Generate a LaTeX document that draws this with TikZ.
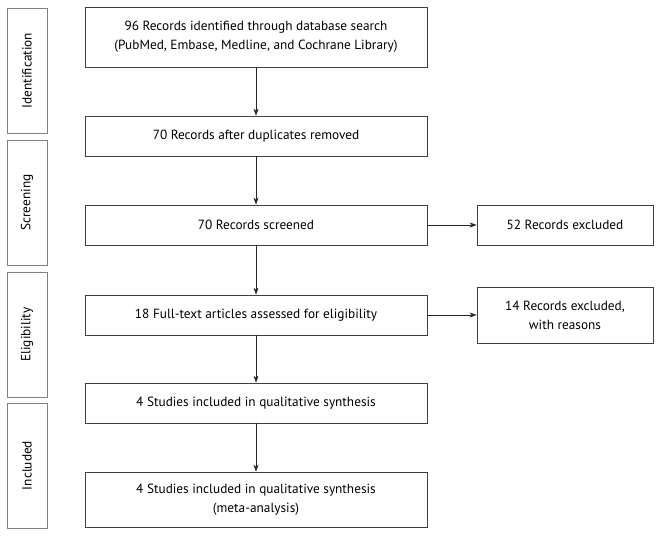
\documentclass[tikz,border=0pt]{standalone}
\usepackage{fontspec}
\setmainfont{PT Sans}
\usetikzlibrary{positioning}
\usetikzlibrary{arrows.meta}

\begin{document}
\begin{tikzpicture}
	[x=1pt, y=-1pt,
	font=\fontsize{13.3}{19}\selectfont,
	align=center,
	>={Stealth[length=7pt, width=5pt]},
	box/.style={draw=black!75, line width=0.8pt, text=black, minimum width=342pt, minimum height=40pt, inner sep=2pt},
	sidebox/.style={draw=black!75, line width=0.8pt, text=black, minimum width=176pt, minimum height=40pt, inner sep=2pt},
	phase/.style={draw=black!50, line width=0.8pt, text=black, rotate=90, minimum width=125pt, minimum height=40pt, inner sep=2pt}]

	\useasboundingbox (0,0) rectangle (660,535);

	% phases
	\node [phase] (ident) at (27,70.5)  {Identification};
	\node [phase] (screen) at (27,202.5) {Screening};
	\node [phase] (elig) at (27,334.5)  {Eligibility};
	\node [phase] (incl) at (27,465.5)  {Included};

	% nodes
	\node [box, minimum height=60pt] (search) at (256,37) {96 Records identified through database search \\ (PubMed, Embase, Medline, and Cochrane Library)};
	\node [box] (dupl) at (256,136) {70 Records after duplicates removed};
	\node [box] (screened) at (256,225) {70 Records screened};
	\node [box] (fulltext) at (256,315) {18 Full-text articles assessed for eligibility};
	\node [box] (qual) at (256,403) {4 Studies included in qualitative synthesis};
	\node [box, minimum height=55pt] (meta) at (256,499.5) {4 Studies included in qualitative synthesis \\ (meta-analysis)};
	\node [sidebox] (excla) at (565,225) {52 Records excluded};
	\node [sidebox, minimum height=56pt] (exclb) at (565,315) {14 Records excluded, \\ with reasons};

	% straight arrows
	\draw [->, black!85] (search) -- (dupl);
	\draw [->, black!85] (dupl) -- (screened);
	\draw [->, black!85] (screened) -- (fulltext);
	\draw [->, black!85] (fulltext) -- (qual);
	\draw [->, black!85] (qual) -- (meta);
	\draw [->, black!85] (screened) -- (excla);
	\draw [->, black!85] (fulltext) -- (exclb);
\end{tikzpicture}
\end{document}
